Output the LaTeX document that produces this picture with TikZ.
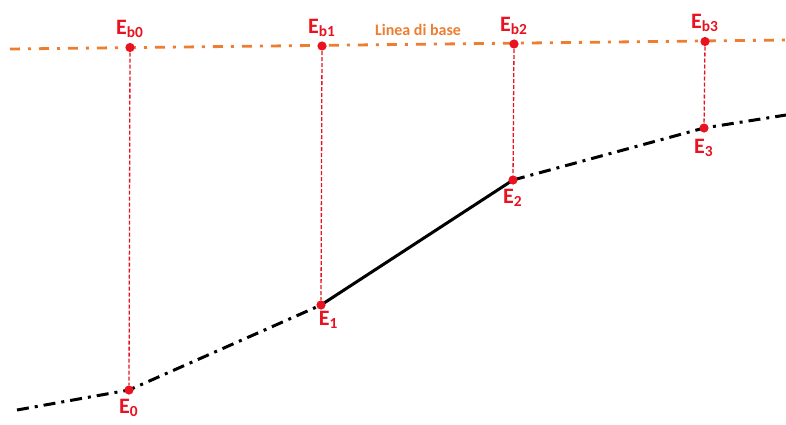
\documentclass[tikz,border=0pt]{standalone}
\usepackage{fontspec}
\setmainfont{Carlito}
\usetikzlibrary{positioning}

\definecolor{ptred}{RGB}{232,18,32}
\definecolor{baseorange}{RGB}{237,125,49}

\pgfdeclarelayer{background}
\pgfsetlayers{background,main}

\tikzset{
    point/.style={circle, fill=ptred, inner sep=0pt, minimum size=4.6pt},
    label-e/.style={text=ptred, font=\bfseries\fontsize{11}{12}\selectfont, inner sep=1pt},
    ground/.style={line width=1.5pt, black,
        dash pattern=on 6pt off 3pt on 1.5pt off 3pt},
    segment/.style={line width=1.5pt, black},
    baseline/.style={line width=1.4pt, baseorange,
        dash pattern=on 5pt off 4pt on 1.5pt off 4pt},
    drop/.style={ptred, line width=0.65pt, dash pattern=on 2pt off 1pt}
}

\begin{document}
\begin{tikzpicture}[x=0.5pt, y=-0.5pt]
    \useasboundingbox (0,0) rectangle (786,424);

    % line ends
    \coordinate (bl-start) at (10,49);
    \coordinate (bl-end) at (786,40);
    \coordinate (gl-start) at (17,410);
    \coordinate (gl-end) at (786,115);

    % base points
    \node[point] (eb0) at (130,47.5) {};
    \node[point] (eb1) at (322,46) {};
    \node[point] (eb2) at (514,44) {};
    \node[point] (eb3) at (705,41.5) {};
    % ground points
    \node[point] (e0) at (129,390) {};
    \node[point] (e1) at (321,305) {};
    \node[point] (e2) at (513,180) {};
    \node[point] (e3) at (704,128) {};

    \begin{pgfonlayer}{background}
        \draw[baseline] (bl-start) -- (bl-end);
        \draw[ground] (gl-start) -- (e0.center) -- (e1.center);
        \draw[segment] (e1.center) -- (e2.center);
        \draw[ground] (e2.center) -- (e3.center) -- (gl-end);
        \foreach \i in {0,1,2,3}
            \draw[drop] (eb\i) -- (e\i);
    \end{pgfonlayer}

    \node[label-e, above=1pt of eb0] (lbl-eb0) {E\textsubscript{b0}};
    \node[label-e, above=1pt of eb1] (lbl-eb1) {E\textsubscript{b1}};
    \node[label-e, above=1pt of eb2] (lbl-eb2) {E\textsubscript{b2}};
    \node[label-e, above=1pt of eb3] (lbl-eb3) {E\textsubscript{b3}};
    \node[label-e, below=1pt of e0] (lbl-e0) {E\textsubscript{0}};
    \node[label-e, below right=0pt and -4pt of e1] (lbl-e1) {E\textsubscript{1}};
    \node[label-e, below=1pt of e2] (lbl-e2) {E\textsubscript{2}};
    \node[label-e, below=2pt of e3] (lbl-e3) {E\textsubscript{3}};

    \node[text=baseorange, font=\bfseries\fontsize{8}{9}\selectfont]
        (base-text) at (418,30) {Linea di base};
\end{tikzpicture}
\end{document}
